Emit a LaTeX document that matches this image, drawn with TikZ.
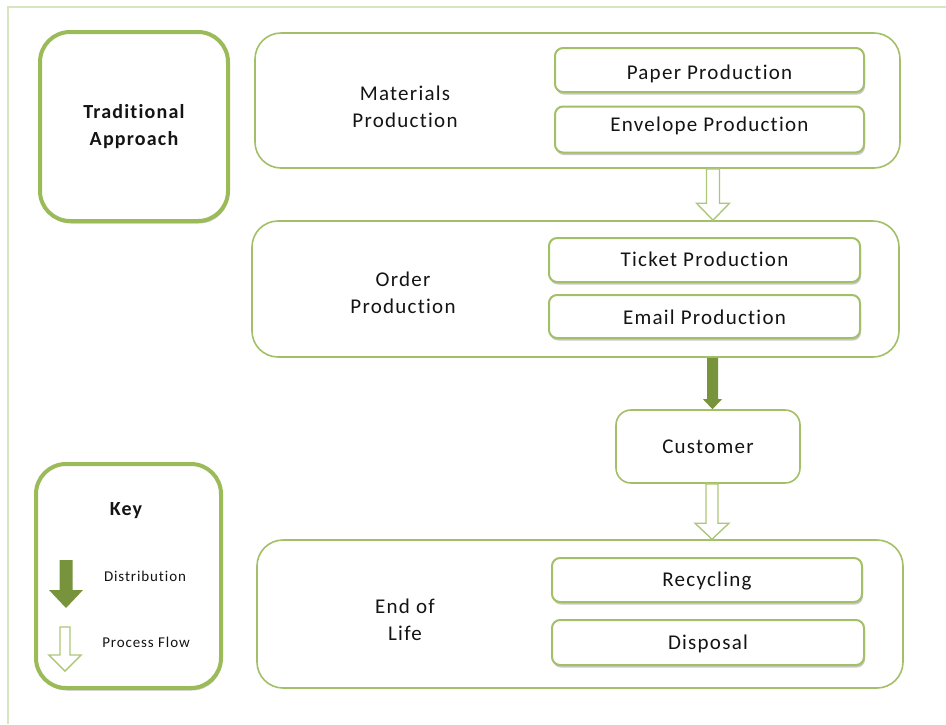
\documentclass[tikz,border=0pt]{standalone}
\usepackage{fontspec}
\setmainfont{Carlito}[LetterSpace=6, Ligatures=NoCommon]
\usetikzlibrary{calc,shadows}
\definecolor{leaf}{HTML}{9BBB59}
\definecolor{leafthin}{HTML}{A3C068}
\definecolor{leafpale}{HTML}{ADC779}
\definecolor{moss}{HTML}{77933C}
\definecolor{frameline}{HTML}{D8E5BF}
\definecolor{ink}{HTML}{141414}

% block arrow pointing down from #1 to #2
% #3 half shaft width, #4 half head width, #5 head length, #6 style
\newcommand\blockarr[6]{%
  \path[#6] let \p1=(#1), \p2=(#2) in
    (\x1-#3,\y1) -- (\x1+#3,\y1) -- (\x1+#3,\y2+#5) -- (\x1+#4,\y2+#5)
    -- (\x1,\y2) -- (\x1-#4,\y2+#5) -- (\x1-#3,\y2+#5) -- cycle;}

\tikzset{
  softshadow/.style={drop shadow={shadow xshift=1pt, shadow yshift=-2.5pt, opacity=0.22, fill=black}},
  heavybox/.style={draw=leaf, line width=4pt, rounded corners=30pt, fill=white, softshadow},
  stagebox/.style={draw=leafthin, line width=1.6pt, rounded corners=26pt, fill=white},
  itembox/.style={draw=leafthin, line width=2pt, rounded corners=8pt, fill=white, softshadow,
                  font=\fontsize{21}{27}\selectfont, text=ink, text height=13pt, text depth=0pt},
  custbox/.style={draw=leafthin, line width=1.6pt, rounded corners=15pt, fill=white,
                  font=\fontsize{21}{27}\selectfont, text=ink, text height=13pt, text depth=0pt},
  stagelabel/.style={align=center, font=\fontsize{21}{27.5}\selectfont, text=ink},
  titlelabel/.style={align=center, font=\bfseries\fontsize{20}{27}\selectfont, text=ink},
  keylabel/.style={font=\fontsize{15}{18}\selectfont, text=ink},
  hollowarr/.style={draw=leafpale, line width=1.4pt, fill=white, line join=miter},
  solidarr/.style={fill=moss},
}

\begin{document}
\begin{tikzpicture}[x=1pt, y=-1pt]
\useasboundingbox (0,0) rectangle (946,724);

% thin page frame
\coordinate (fbl) at (8,724);
\coordinate (ftl) at (8,7);
\coordinate (ftr) at (946,7);
\draw[frameline, line width=1.5pt] (fbl) -- (ftl) -- (ftr);

% heading and legend panels
\node[heavybox, minimum width=188pt, minimum height=189pt] (trad) at (134,126.5) {};
\node[titlelabel] (tradtxt) at (trad.center) {Traditional\\Approach};

\node[heavybox, minimum width=185pt, minimum height=224pt] (key) at (128.5,576) {};
\node[titlelabel] (keytxt) at (126,511) {Key};

% legend arrows
\coordinate (kd1) at (66,560);
\coordinate (kd2) at (66,608);
\blockarr{kd1}{kd2}{6.5}{17}{18}{solidarr}
\node[keylabel] (kdist) at (145,576) {Distribution};

\coordinate (kp1) at (65,627);
\coordinate (kp2) at (65,671);
\blockarr{kp1}{kp2}{5}{16}{16}{hollowarr}
\node[keylabel] (kproc) at (146,642) {Process Flow};

% stage 1
\node[stagebox, minimum width=645pt, minimum height=135pt] (mat) at (577.5,100.5) {};
\node[stagelabel] (mattxt) at (405,107) {Materials\\Production};
\node[itembox, minimum width=309pt, minimum height=44pt, text height=19pt] (paper) at (709.5,70) {Paper Production};
\node[itembox, minimum width=309pt, minimum height=46pt, text height=4pt] (env) at (709.5,129.5) {Envelope Production};

% stage 2
\node[stagebox, minimum width=647pt, minimum height=136pt] (ord) at (575.5,289) {};
\node[stagelabel] (ordtxt) at (403,293) {Order\\Production};
\node[itembox, minimum width=311pt, minimum height=44pt, text height=12pt] (ticket) at (704.5,260) {Ticket Production};
\node[itembox, minimum width=311pt, minimum height=43pt, text height=15pt] (email) at (704.5,316.5) {Email Production};

% customer
\node[custbox, minimum width=184pt, minimum height=73pt] (cust) at (708,446.5) {Customer};

% stage 3
\node[stagebox, minimum width=646pt, minimum height=148pt] (eol) at (580,614) {};
\node[stagelabel] (eoltxt) at (405,620) {End of\\Life};
\node[itembox, minimum width=310pt, minimum height=44pt] (recyc) at (707,580) {Recycling};
\node[itembox, minimum width=312pt, minimum height=45pt] (disp) at (708,642.5) {Disposal};

% flow arrows between stages
\coordinate (ax1) at (713,0);
\coordinate (ax2) at (712.5,0);
\coordinate (ax3) at (712,0);
\blockarr{mat.south -| ax1}{ord.north -| ax1}{6.5}{16.5}{17}{hollowarr}
\blockarr{ord.south -| ax2}{cust.north -| ax2}{5.5}{9.5}{10}{solidarr}
\blockarr{cust.south -| ax3}{eol.north -| ax3}{6}{17}{16}{hollowarr}
\end{tikzpicture}
\end{document}
